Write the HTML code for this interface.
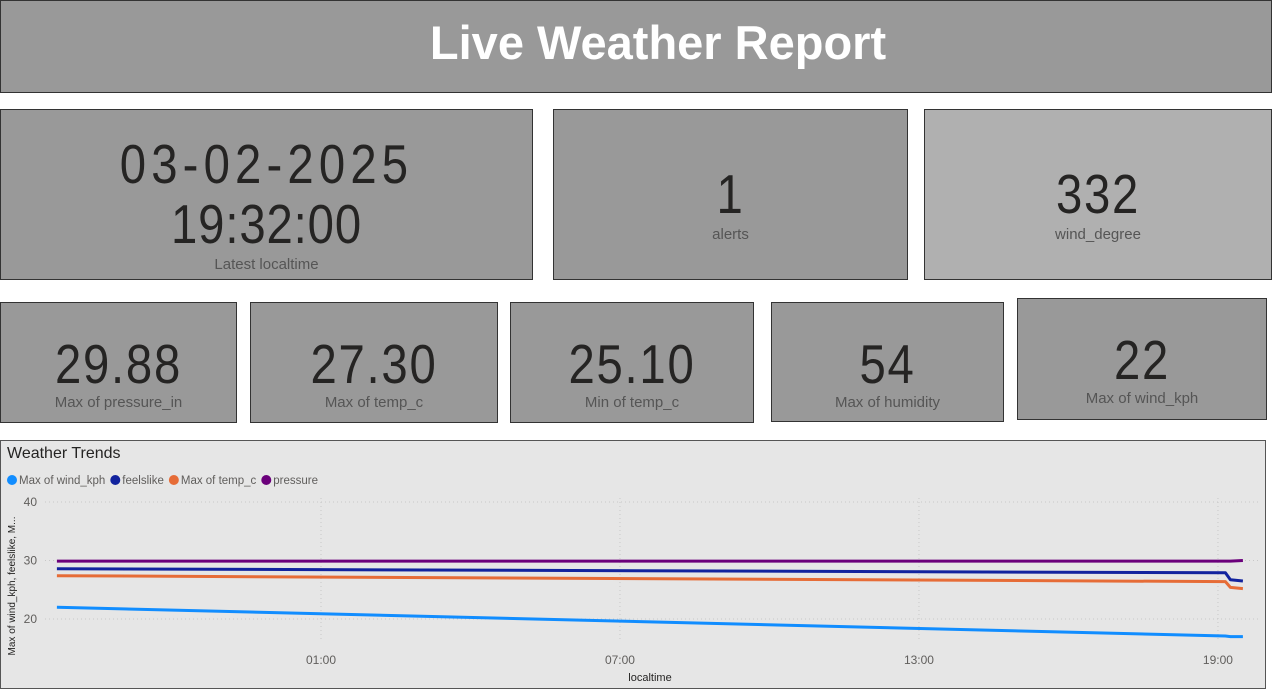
<!DOCTYPE html>
<html><head><meta charset="utf-8"><style>
body{margin:0;width:1273px;height:693px;background:#fff;position:relative;overflow:hidden;font-family:"Liberation Sans",sans-serif}
.box{position:absolute;box-sizing:border-box;border:1px solid #333;background:#999}
.num{position:absolute;left:0;right:0;text-align:center;font-family:"Liberation Sans",sans-serif;color:#252423;font-size:55px;letter-spacing:2px;line-height:1;transform:scaleX(0.86)}
.lbl{position:absolute;left:0;right:0;text-align:center;color:#555;font-size:15px}
</style></head><body>
<div class="box" style="left:0;top:0;width:1272px;height:93px;">
<div style="position:absolute;left:44px;right:0;top:14px;text-align:center;color:#fff;font-weight:bold;font-size:47px;">Live Weather Report</div></div>

<div class="box" style="left:0;top:109px;width:533px;height:171px;">
<div class="num" style="top:27px;letter-spacing:6px;">03-02-2025</div>
<div class="num" style="top:87px;letter-spacing:1px;">19:32:00</div>
<div class="lbl" style="top:146px;">Latest localtime</div></div>

<div class="box" style="left:553px;top:109px;width:355px;height:171px;">
<div class="num" style="top:57px;">1</div>
<div class="lbl" style="top:116px;">alerts</div></div>

<div class="box" style="left:924px;top:109px;width:348px;height:171px;background:#b0b0b0;">
<div class="num" style="top:57px;">332</div>
<div class="lbl" style="top:116px;">wind_degree</div></div>

<div class="box" style="left:0;top:302px;width:237px;height:121px;">
<div class="num" style="top:34px;">29.88</div>
<div class="lbl" style="top:91px;">Max of pressure_in</div></div>

<div class="box" style="left:250px;top:302px;width:248px;height:121px;">
<div class="num" style="top:34px;">27.30</div>
<div class="lbl" style="top:91px;">Max of temp_c</div></div>

<div class="box" style="left:510px;top:302px;width:244px;height:121px;">
<div class="num" style="top:34px;">25.10</div>
<div class="lbl" style="top:91px;">Min of temp_c</div></div>

<div class="box" style="left:771px;top:302px;width:233px;height:120px;">
<div class="num" style="top:34px;">54</div>
<div class="lbl" style="top:91px;">Max of humidity</div></div>

<div class="box" style="left:1017px;top:298px;width:250px;height:122px;">
<div class="num" style="top:34px;">22</div>
<div class="lbl" style="top:91px;">Max of wind_kph</div></div>

<div class="box" style="left:0;top:440px;width:1266px;height:249px;background:#e6e6e6;border-color:#555;">
<svg id="chart" width="1266" height="249" style="position:absolute;left:-1px;top:-1px;font-family:'Liberation Sans',sans-serif"></svg></div>

<script>
const times=[-4.3,19.15,19.25,19.5];
const windKph=[22.0,17.1,17.0,17.0];
const feelslike=[28.6,27.9,26.7,26.5];
const tempC=[27.4,26.4,25.4,25.2];
const pressure=[29.9,29.9,29.9,30.0];
const yTicks=[20,30,40];
const xTicks=[1,7,13,19];
const xTickLabels=["01:00","07:00","13:00","19:00"];
const seriesNames=["Max of wind_kph","feelslike","Max of temp_c","pressure"];
const seriesColors=["#118dff","#12239e","#e66c37","#6b007b"];

const svg=document.getElementById('chart');
const NS='http://www.w3.org/2000/svg';
const oy=440;
function X(h){return 321+(h-1)*49.83;}
function Y(v){return 619-oy-(v-20)*5.85;}
function el(tag,attrs,text){const e=document.createElementNS(NS,tag);for(const k in attrs)e.setAttribute(k,attrs[k]);if(text!==undefined)e.textContent=text;svg.appendChild(e);return e;}

let t=el('text',{x:7,y:18,'font-size':16,fill:'#252423'},'Weather Trends');



let lx=7;
seriesNames.forEach((n,i)=>{
  const c=el('circle',{cx:lx+5,cy:40,r:5,fill:seriesColors[i]});
  
  
  const tx=el('text',{x:lx+12,y:44,'font-size':11.5,fill:'#605e5c'},n);
  
  
  lx+=12+tx.getComputedTextLength()+5;
});

yTicks.forEach(v=>{
  const g=el('line',{x1:45,x2:1260,y1:Y(v),y2:Y(v),stroke:'#c8c8c8','stroke-dasharray':'1 3'});
  
  
  const l=el('text',{x:37,y:Y(v)+4,'font-size':12,fill:'#605e5c','text-anchor':'end'},String(v));
  
  
});
xTicks.forEach((h,i)=>{
  const g=el('line',{x1:X(h),x2:X(h),y1:58,y2:200,stroke:'#c8c8c8','stroke-dasharray':'1 3'});
  
  
  const l=el('text',{x:X(h),y:224,'font-size':12,fill:'#605e5c','text-anchor':'middle'},xTickLabels[i]);
  
  
});
let xt=el('text',{x:650,y:241,'font-size':11,fill:'#252423','text-anchor':'middle'},'localtime');


let yt=el('text',{x:0,y:0,'font-size':10,fill:'#252423','text-anchor':'middle',transform:'translate(15,146) rotate(-90)'},'Max of wind_kph, feelslike, M...');



[windKph,feelslike,tempC,pressure].forEach((s,i)=>{
  const pts=s.map((v,j)=>X(times[j]).toFixed(1)+','+Y(v).toFixed(1)).join(' ');
  const p=el('polyline',{points:pts,fill:'none',stroke:seriesColors[i],'stroke-width':3,'stroke-linejoin':'round'});
  
  
});
</script>
</body></html>
